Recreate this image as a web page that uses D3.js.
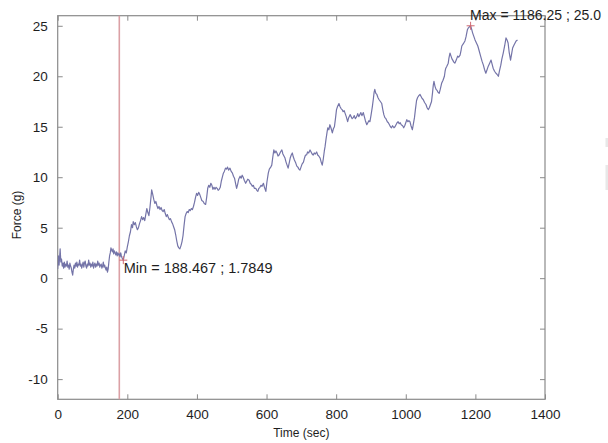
<!DOCTYPE html>
<html>
<head>
<meta charset="utf-8">
<script src="https://cdn.jsdelivr.net/npm/d3@7"></script>
<style>
  html, body { margin: 0; padding: 0; background: #fff; }
  svg { display: block; font-family: "Liberation Sans", Arial, Helvetica, sans-serif; }
</style>
</head>
<body>
<svg id="chart" width="608" height="443"></svg>
<script>
// Force trace recorded over time: [time (sec), force (g)]
const forceTrace = [
  [0,0.9],[2,2.2],[4,1.3],[7,2.9],[9,1.6],[11,1.9],[13,1.2],[15,1.5],[17,1.0],[19,1.6],
  [21,1.1],[23,1.4],[25,1.2],[27,1.7],[29,1.1],[31,1.3],[33,0.9],[35,1.5],[37,1.2],[39,1.0],
  [41,0.6],[43,0.3],[45,0.9],[47,1.3],[49,1.0],[51,1.5],[53,1.2],[55,1.6],[57,1.1],[59,1.4],
  [61,1.3],[63,1.8],[65,1.2],[67,1.4],[69,1.0],[71,1.3],[73,1.6],[75,1.1],[77,1.5],[79,1.7],
  [81,1.2],[83,1.0],[85,1.4],[87,1.2],[89,1.8],[91,1.3],[93,1.5],[95,1.1],[97,1.4],[99,1.2],
  [101,1.6],[103,1.0],[105,1.3],[107,1.5],[109,1.1],[111,1.4],[113,1.2],[115,1.7],[117,1.3],[119,1.5],
  [121,1.1],[123,1.3],[125,1.4],[127,1.0],[129,1.2],[131,1.6],[133,1.1],[135,1.3],[137,1.0],[139,0.8],
  [141,1.1],[143,0.6],[145,0.9],[147,1.6],[149,2.2],[151,2.5],[153,3.0],[155,2.8],[157,2.6],[159,2.9],
  [161,2.4],[163,2.7],[165,2.5],[167,2.3],[169,2.6],[171,2.2],[173,2.5],[175,2.3],[177,2.4],[179,2.1],
  [181,2.5],[183,2.2],[185,2.0],[188.467,1.7849],[191,2.2],[194,2.7],[197,2.5],[200,3.1],[203,3.6],
  [206,4.2],[209,4.6],[212,5.3],[215,5.0],[217,5.6],[220,5.3],[223,5.5],[226,5.1],[229,4.8],[232,5.0],
  [235,5.4],[238,5.7],[241,6.1],[244,5.8],[247,6.0],[250,5.7],[253,6.3],[256,6.9],[259,6.5],[262,6.2],
  [265,7.0],[268,8.0],[270,8.75],[273,8.3],[276,7.8],[279,7.4],[282,7.6],[285,7.2],[288,6.9],[291,7.1],
  [294,6.8],[297,7.0],[300,6.7],[303,6.6],[306,6.8],[309,6.4],[312,6.1],[315,6.3],[318,6.0],[321,5.8],
  [324,5.9],[327,5.6],[330,5.4],[333,5.1],[336,4.8],[339,4.3],[342,3.7],[345,3.2],[348,3.0],[351,2.9],
  [354,3.2],[357,3.6],[360,4.2],[363,5.2],[366,6.1],[369,6.4],[372,6.6],[375,6.5],[378,6.8],[381,6.7],
  [384,6.9],[387,6.8],[390,7.1],[393,7.5],[396,8.0],[399,8.4],[402,8.2],[405,8.5],[408,8.3],
  [411,8.0],[414,7.7],[418,7.6],[421,7.4],[425,7.3],[428,8.0],[431,8.9],[434,9.2],[437,9.0],[440,9.4],
  [443,9.2],[446,8.8],[449,9.0],[452,8.8],[455,9.0],[458,8.9],[461,8.7],[464,8.8],[467,9.0],[470,9.6],
  [473,10.0],[476,10.4],[479,10.6],[482,10.9],[485,10.8],[488,11.0],[491,10.7],[495,10.9],[498,10.6],[502,10.4],
  [505,10.1],[508,9.9],[511,9.4],[514,8.9],[517,9.3],[520,9.8],[524,10.1],[527,9.9],[530,10.2],[533,10.0],
  [536,9.7],[540,9.4],[543,9.6],[546,9.8],[550,9.7],[553,9.4],[556,9.3],[559,9.1],[562,9.2],[565,8.9],
  [569,8.9],[572,8.7],[575,8.6],[578,8.9],[581,9.0],[584,9.2],[587,9.1],[591,9.4],[594,9.0],[598,8.6],
  [601,9.5],[605,10.4],[608,10.8],[612,11.0],[615,11.2],[618,12.0],[621,12.7],[624,12.4],[627,12.6],[630,12.4],
  [633,12.1],[636,12.2],[640,12.5],[644,12.7],[647,12.3],[650,12.1],[653,11.9],[656,11.5],[659,11.2],[662,10.9],
  [665,11.4],[668,11.9],[671,12.2],[674,12.4],[677,12.0],[680,11.7],[684,11.4],[687,11.1],[690,11.0],[693,10.8],
  [696,10.7],[699,11.0],[702,11.3],[706,11.5],
  [709,11.9],[712,12.2],[715,12.2],[718,12.5],[721,12.4],[725,12.7],[728,12.5],[731,12.3],[734,12.2],[737,12.4],
  [740,12.3],[744,12.5],[747,12.2],[750,12.1],[754,11.9],[757,11.5],[760,11.2],[763,11.8],[766,12.6],[768,13.0],
  [771,13.8],[774,14.5],[776,14.9],[779,14.7],[782,15.2],[785,14.9],[789,14.4],[792,14.8],[795,15.0],[798,15.8],
  [801,16.7],[804,17.0],[808,17.3],[811,17.0],[814,16.8],[817,16.7],[820,16.5],[823,16.6],[826,16.3],[829,16.0],
  [833,15.5],[836,15.9],[840,16.2],[843,16.0],[846,15.8],[849,15.9],[852,16.1],[855,15.8],[859,16.0],[862,16.3],
  [865,16.0],[868,16.2],[871,16.4],[874,16.1],[878,16.4],[881,16.0],[884,15.6],[888,15.2],[891,15.4],[894,15.6],
  [897,15.5],[900,16.1],[904,17.0],[907,17.8],[909,18.4],[911,18.7],[914,18.3],[917,18.2],[920,17.9],[923,17.7],
  [927,17.5],[931,17.3],[934,16.7],[937,16.2],[940,15.9],[943,15.8],[947,15.5],[950,15.4],[953,15.2],[956,15.0],
  [959,14.9],[962,15.1],[966,14.9],[969,15.0],[972,15.2],[975,15.4],[978,15.5],[981,15.3],[984,15.4],[987,15.2],
  [991,15.1],[994,14.9],[997,15.1],[1000,15.4],[1003,15.7],[1006,15.5],[1009,15.6],[1012,15.5],[1015,15.1],[1019,14.7],
  [1022,15.3],[1025,15.9],[1028,16.8],[1031,17.6],[1034,17.9],[1038,18.1],[1041,18.2],
  [1044,18.0],[1047,17.8],[1050,17.7],[1054,17.4],[1058,17.2],[1061,16.9],[1065,16.7],[1068,16.9],[1071,17.2],[1074,17.5],
  [1077,18.4],[1079,19.1],[1081,19.5],[1084,19.0],[1087,18.7],[1090,18.6],[1093,18.4],[1096,18.3],[1099,18.7],[1103,19.3],
  [1107,19.6],[1111,20.0],[1113,20.5],[1115,20.8],[1118,21.0],[1122,21.3],[1124,21.8],[1127,22.3],[1130,22.0],[1133,21.7],
  [1135,21.6],[1138,21.4],[1141,21.3],[1145,21.6],[1149,22.0],[1152,21.9],[1156,22.1],[1159,22.6],[1161,23.0],[1165,23.2],
  [1170,23.5],[1173,23.9],[1177,24.6],[1180,24.8],[1183,24.9],[1186.25,25.0],[1189,24.7],[1192,24.3],[1195,24.0],[1199,23.6],
  [1203,23.3],[1207,23.0],[1211,22.5],[1215,22.0],[1219,21.5],[1223,21.1],[1226,20.7],[1230,20.3],[1233,20.6],[1237,21.0],
  [1241,21.3],[1245,21.6],[1248,21.2],[1251,20.8],[1255,20.5],[1259,20.3],[1262,20.2],[1266,20.0],[1269,20.5],[1273,21.1],
  [1276,21.7],[1280,22.3],[1284,23.0],[1288,23.8],[1291,23.6],[1294,23.3],[1297,22.4],[1301,21.6],[1304,22.2],[1307,22.8],
  [1311,23.1],[1314,23.3],[1317,23.5],[1321,23.6]
];

// Extremes annotated on the trace
const minPoint = { t: 188.467, v: 1.7849 };
const maxPoint = { t: 1186.25, v: 25.0 };
const minLabel = "Min = 188.467 ; 1.7849";
const maxLabel = "Max = 1186.25 ; 25.0";

// Vertical reference marker (sec)
const markerTime = 177;

// Axis ticks
const xTicks = [0, 200, 400, 600, 800, 1000, 1200, 1400];
const yTicks = [-10, -5, 0, 5, 10, 15, 20, 25];
const xDomain = [0, 1400];
const yDomain = [-12, 26];

const xTitle = "Time (sec)";
const yTitle = "Force (g)";

const svg = d3.select("#chart");
const margin = { left: 57.7, top: 15.7, right: 608 - 545, bottom: 443 - 399.3 };
const W = 608 - margin.left - margin.right;
const H = 443 - margin.top - margin.bottom;

const x = d3.scaleLinear().domain(xDomain).range([0, W]);
const y = d3.scaleLinear().domain(yDomain).range([H, 0]);

const g = svg.append("g").attr("transform", `translate(${margin.left},${margin.top})`);

svg.append("defs").append("clipPath").attr("id", "plotClip")
  .append("rect").attr("x", 0).attr("y", 0).attr("width", W).attr("height", H);

const axisColor = "#8a8a8a";
const textColor = "#1e1e1e";
const tickLen = 5;
const plainNumber = d => String(d);   // ASCII hyphen for negatives

// Axes: bottom/left carry labels, top/right mirror the ticks (boxed plot)
function styleAxis(sel) {
  sel.select(".domain").remove();
  sel.selectAll(".tick line").attr("stroke", axisColor).attr("stroke-width", 1);
  sel.selectAll(".tick text").attr("fill", textColor)
    .style("font-size", "13.5px").style("font-family", '"Liberation Sans", Arial, sans-serif');
}

g.append("g").attr("transform", `translate(0,${H})`)
  .call(d3.axisBottom(x).tickValues(xTicks).tickFormat(plainNumber).tickSizeInner(-tickLen).tickSizeOuter(0).tickPadding(10))
  .call(styleAxis);
g.append("g")
  .call(d3.axisTop(x).tickValues(xTicks).tickFormat("").tickSizeInner(-tickLen).tickSizeOuter(0))
  .call(styleAxis);
g.append("g")
  .call(d3.axisLeft(y).tickValues(yTicks).tickFormat(plainNumber).tickSizeInner(-tickLen).tickSizeOuter(0).tickPadding(10))
  .call(styleAxis);
g.append("g").attr("transform", `translate(${W},0)`)
  .call(d3.axisRight(y).tickValues(yTicks).tickFormat("").tickSizeInner(-tickLen).tickSizeOuter(0))
  .call(styleAxis);

// Plot frame
g.append("rect").attr("x", 0).attr("y", 0).attr("width", W).attr("height", H)
  .attr("fill", "none").attr("stroke", axisColor).attr("stroke-width", 1.2);

// Reference marker line
g.append("line")
  .attr("x1", x(markerTime)).attr("x2", x(markerTime))
  .attr("y1", 0).attr("y2", H)
  .attr("stroke", "#dba0a5").attr("stroke-width", 1.6);

// Force trace
const line = d3.line().x(d => x(d[0])).y(d => y(d[1]));
g.append("path").datum(forceTrace)
  .attr("clip-path", "url(#plotClip)")
  .attr("d", line)
  .attr("fill", "none")
  .attr("stroke", "#7474a8")
  .attr("stroke-width", 1.2)
  .attr("stroke-linejoin", "round");

// Extremes: plus markers and annotations
function plus(p) {
  const cx = x(p.t), cy = y(p.v), s = 4;
  const m = g.append("g").attr("stroke", "#d06a72").attr("stroke-width", 1);
  m.append("line").attr("x1", cx - s).attr("x2", cx + s).attr("y1", cy).attr("y2", cy);
  m.append("line").attr("x1", cx).attr("x2", cx).attr("y1", cy - s).attr("y2", cy + s);
}
plus(minPoint);
plus(maxPoint);

g.append("text")
  .attr("x", x(minPoint.t) + 0.5).attr("y", y(minPoint.v) + 12.5)
  .attr("fill", textColor).style("font-size", "14.5px")
  .text(minLabel);
g.append("text")
  .attr("x", x(maxPoint.t) - 0.5).attr("y", y(maxPoint.v) - 5.5)
  .attr("fill", textColor).style("font-size", "14px")
  .text(maxLabel);

// Axis titles
svg.append("text")
  .attr("x", margin.left + W / 2).attr("y", 437)
  .attr("text-anchor", "middle").attr("fill", textColor).style("font-size", "12px")
  .text(xTitle);
svg.append("text")
  .attr("transform", `translate(20.5,${215}) rotate(-90)`)
  .attr("text-anchor", "middle").attr("fill", textColor).style("font-size", "12px")
  .text(yTitle);

// Edge of a neighbouring panel at the right border
svg.append("rect").attr("x", 605.5).attr("y", 138).attr("width", 3).attr("height", 9).attr("fill", "#e8e8e8");
svg.append("rect").attr("x", 605.5).attr("y", 165).attr("width", 3).attr("height", 25).attr("fill", "#e8e8e8");
</script>
</body>
</html>
